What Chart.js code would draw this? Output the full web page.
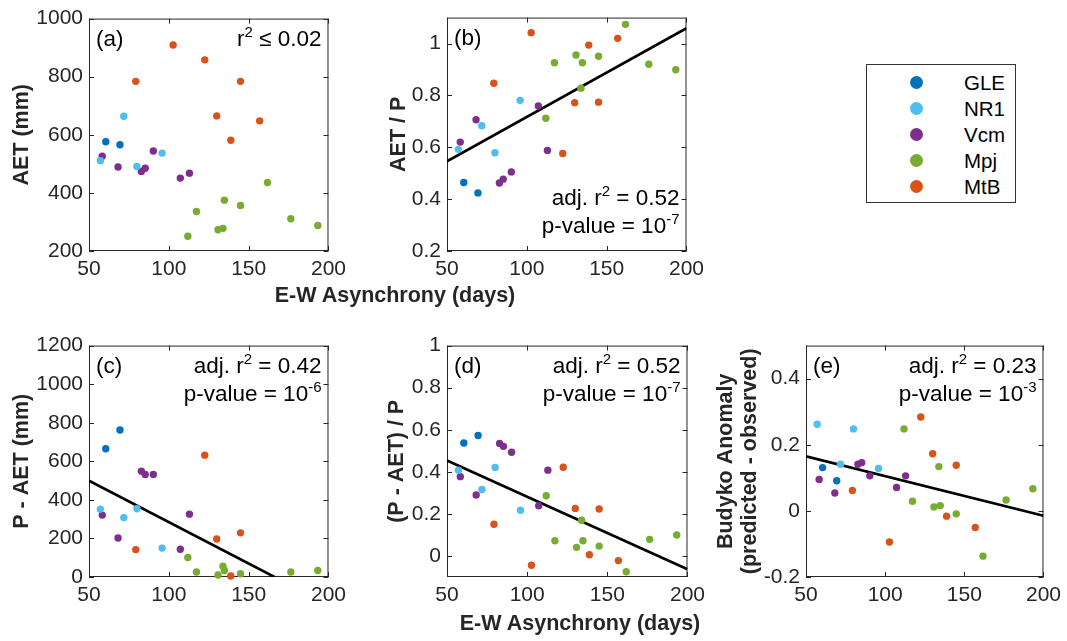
<!DOCTYPE html>
<html>
<head>
<meta charset="utf-8">
<script src="https://cdn.jsdelivr.net/npm/chart.js@4.4.1/dist/chart.umd.min.js"></script>
<style>
    body { margin: 0; width: 1067px; height: 641px; overflow: hidden; background: #fff; position: relative;
           font-family: "Liberation Sans", Arial, sans-serif; }
    canvas { position: absolute; }
    .xtitle { position: absolute; font-weight: bold; font-size: 21.5px; color: #262626; white-space: nowrap;
              transform: translate(-50%, -50%); }
    #legend { position: absolute; left: 866px; top: 64px; width: 148px; height: 137px; border: 1px solid #333; }
    .lg-row { position: absolute; left: 0; height: 24px; width: 148px; }
    .lg-dot { position: absolute; left: 43px; top: 5px; width: 13px; height: 13px; border-radius: 50%; }
    .lg-txt { position: absolute; left: 97px; top: 0; font-size: 20.5px; line-height: 24px; color: #000; }
</style>
</head>
<body>
<canvas id="panelA"></canvas>
<canvas id="panelB"></canvas>
<canvas id="panelC"></canvas>
<canvas id="panelD"></canvas>
<canvas id="panelE"></canvas>
<div class="xtitle" style="left:395px; top:295px;">E-W Asynchrony (days)</div>
<div class="xtitle" style="left:580px; top:623px;">E-W Asynchrony (days)</div>
<div id="legend"></div>

<script>
const siteNames = ["GLE", "NR1", "Vcm", "Mpj", "MtB"];
const siteColors = ["#0072BD", "#4DBEEE", "#7E2F8E", "#77AC30", "#D95319"];

// E-W asynchrony (days), shared by every panel
const asyncGLE = [60.5, 69.4];
const asyncNR1 = [57.1, 71.8, 80.0, 95.8];
const asyncVcm = [58.3, 68.2, 82.8, 85.2, 90.3, 107.2, 112.9];
const asyncMpj = [111.9, 117.3, 130.8, 133.9, 134.8, 144.9, 161.8, 176.4, 193.3];
const asyncMtB = [79.3, 102.7, 122.5, 130.0, 138.8, 144.9, 156.9];

// (a) AET (mm)
const aetGLE = [576, 566];
const aetNR1 = [511, 664, 491, 537];
const aetVcm = [526, 489, 474, 485, 544, 451, 468];
const aetMpj = [251, 336, 273, 278, 375, 357, 436, 311, 288];
const aetMtB = [784, 909, 858, 665, 581, 784, 648];

// (b) AET / P
const ratioGLE = [0.464, 0.424];
const ratioNR1 = [0.592, 0.683, 0.579, 0.781];
const ratioVcm = [0.620, 0.706, 0.462, 0.477, 0.505, 0.759, 0.588];
const ratioMpj = [0.712, 0.926, 0.956, 0.828, 0.926, 0.951, 1.074, 0.920, 0.899];
const ratioMtB = [0.847, 1.042, 0.576, 0.772, 0.994, 0.774, 1.020];

// (c) P - AET (mm); null = off the bottom of the axis
const surplusGLE = [665, 762];
const surplusNR1 = [352, 308, 354, 150];
const surplusVcm = [321, 202, 549, 532, 532, 144, 326];
const surplusMpj = [101, 26, 10, 56, 34, 17, null, 26, 34];
const surplusMtB = [142, null, 632, 197, 5, 229, null];

// (d) (P - AET) / P
const fracGLE = [0.537, 0.573];
const fracNR1 = [0.408, 0.316, 0.421, 0.217];
const fracVcm = [0.377, 0.290, 0.535, 0.521, 0.493, 0.239, 0.408];
const fracMpj = [0.286, 0.072, 0.041, 0.170, 0.072, 0.047, -0.075, 0.079, 0.100];
const fracMtB = [0.151, -0.044, 0.422, 0.226, 0.006, 0.223, -0.022];

// (e) Budyko anomaly (predicted - observed)
const budGLE = [0.131, 0.091];
const budNR1 = [0.262, 0.141, 0.248, 0.128];
const budVcm = [0.095, 0.054, 0.141, 0.146, 0.106, 0.071, 0.106];
const budMpj = [0.248, 0.029, 0.012, 0.134, 0.016, -0.009, -0.137, 0.033, 0.067];
const budMtB = [0.062, -0.094, 0.284, 0.173, -0.016, 0.138, -0.050];

// regression lines (end points)
const fitXB = [50, 200];
const fitYB = [0.546, 1.059];
const fitXC = [50, 166.2];
const fitYC = [499, 0];
const fitXD = [50, 200];
const fitYD = [0.454, -0.063];
const fitXE = [50, 200];
const fitYE = [0.165, -0.015];

// ticks
const xTicks = [50, 100, 150, 200];
const yTicksA = [200, 400, 600, 800, 1000];
const yTicksB = [0.2, 0.4, 0.6, 0.8, 1];
const yTicksC = [0, 200, 400, 600, 800, 1000, 1200];
const yTicksD = [0, 0.2, 0.4, 0.6, 0.8, 1];
const yTicksE = [-0.2, 0, 0.2, 0.4];

const asyncAll = [asyncGLE, asyncNR1, asyncVcm, asyncMpj, asyncMtB];

const TICK_FONT = { family: "'Liberation Sans', Arial, sans-serif", size: 21 };
const TITLE_FONT = { family: "'Liberation Sans', Arial, sans-serif", size: 21.5, weight: "bold", lineHeight: 1.15 };
const NOTE_SIZE = 22.5;
const AXIS_COLOR = "#262626";
const PAD_TOP = 16;
const X_AXIS_H = 44;

const boxPlugin = {
    id: "box",
    beforeDatasetsDraw(chart) {
        const { ctx, chartArea: a, scales } = chart;
        ctx.save();
        ctx.strokeStyle = AXIS_COLOR;
        ctx.lineWidth = 1;
        ctx.strokeRect(a.left + 0.5, a.top + 0.5, a.right - a.left - 1, a.bottom - a.top - 1);
        ctx.beginPath();
        scales.x.ticks.forEach((t) => {
            const px = Math.round(scales.x.getPixelForValue(t.value)) + 0.5;
            ctx.moveTo(px, a.bottom); ctx.lineTo(px, a.bottom - 5);
            ctx.moveTo(px, a.top); ctx.lineTo(px, a.top + 5);
        });
        scales.y.ticks.forEach((t) => {
            const py = Math.round(scales.y.getPixelForValue(t.value)) + 0.5;
            ctx.moveTo(a.left, py); ctx.lineTo(a.left + 5, py);
            ctx.moveTo(a.right, py); ctx.lineTo(a.right - 5, py);
        });
        ctx.stroke();
        ctx.restore();
    },
};

function splitSup(text) {
    // "adj. r^{2} = 0.52" -> [{t:"adj. r", sup:false}, {t:"2", sup:true}, ...]
    const parts = [];
    text.split(/\^\{([^}]*)\}/).forEach((t, i) => {
        if (t) parts.push({ t, sup: i % 2 === 1 });
    });
    return parts;
}

const notePlugin = {
    id: "note",
    afterDraw(chart, args, opts) {
        const { ctx, chartArea: a } = chart;
        const family = "'Liberation Sans', Arial, sans-serif";
        const normal = `${NOTE_SIZE}px ${family}`;
        const small = `${Math.round(NOTE_SIZE * 0.68)}px ${family}`;
        ctx.save();
        ctx.fillStyle = "#000";
        ctx.textBaseline = "alphabetic";
        ctx.textAlign = "left";
        ctx.font = normal;
        ctx.fillText(opts.tag, a.left + 7, a.top + 27);

        const lines = opts.lines || [];
        lines.forEach((line, i) => {
            const base = opts.atBottom
                ? a.bottom - 18 - (lines.length - 1 - i) * 28
                : a.top + 27 + i * 28;
            const parts = splitSup(line);
            let w = 0;
            parts.forEach((p) => {
                ctx.font = p.sup ? small : normal;
                p.w = ctx.measureText(p.t).width;
                w += p.w;
            });
            let x = a.right - 7 - w;
            parts.forEach((p) => {
                ctx.font = p.sup ? small : normal;
                ctx.fillText(p.t, x, p.sup ? base - 9 : base);
                x += p.w;
            });
        });
        ctx.restore();
    },
};

function pointSets(ySeries) {
    return ySeries.map((ys, s) => ({
        label: siteNames[s],
        data: asyncAll[s]
            .map((x, i) => ({ x, y: ys[i] }))
            .filter((p) => p.y !== null),
        backgroundColor: siteColors[s],
        pointBackgroundColor: siteColors[s],
        pointBorderWidth: 0,
        pointRadius: 3.7,
        clip: false,
    }));
}

function fitSet(xs, ys) {
    return {
        label: "fit",
        data: xs.map((x, i) => ({ x, y: ys[i] })),
        showLine: true,
        borderColor: "#000",
        borderWidth: 2.6,
        pointRadius: 0,
        fill: false,
    };
}

function makePanel(cfg) {
    const canvas = document.getElementById(cfg.id);
    const width = cfg.box.right - cfg.canvasLeft + cfg.padRight;
    const height = PAD_TOP + (cfg.box.bottom - cfg.box.top) + X_AXIS_H;
    canvas.width = width;
    canvas.height = height;
    canvas.style.left = cfg.canvasLeft + "px";
    canvas.style.top = (cfg.box.top - PAD_TOP) + "px";
    canvas.style.width = width + "px";
    canvas.style.height = height + "px";
    const yAxisW = cfg.box.left - cfg.canvasLeft;

    const datasets = pointSets(cfg.series);
    if (cfg.fit) datasets.push(fitSet(cfg.fit[0], cfg.fit[1]));

    new Chart(canvas, {
        type: "scatter",
        data: { datasets },
        options: {
            responsive: false,
            animation: false,
            devicePixelRatio: 1,
            layout: { padding: { top: PAD_TOP, right: cfg.padRight, left: 0, bottom: 0 } },
            plugins: {
                legend: { display: false },
                tooltip: { enabled: false },
                note: cfg.note,
            },
            scales: {
                x: {
                    type: "linear",
                    min: 50,
                    max: 200,
                    grid: { display: false, drawTicks: false },
                    border: { display: false },
                    afterBuildTicks: (s) => { s.ticks = xTicks.map((v) => ({ value: v })); },
                    afterFit: (s) => { s.height = X_AXIS_H; },
                    ticks: { font: TICK_FONT, color: AXIS_COLOR, padding: 6, maxRotation: 0,
                             callback: (v) => String(v) },
                },
                y: {
                    type: "linear",
                    min: cfg.yMin,
                    max: cfg.yMax,
                    grid: { display: false, drawTicks: false },
                    border: { display: false },
                    afterBuildTicks: (s) => { s.ticks = cfg.yTicks.map((v) => ({ value: v })); },
                    afterFit: (s) => { s.width = yAxisW; },
                    ticks: { font: TICK_FONT, color: AXIS_COLOR, padding: 6,
                             callback: (v) => String(v) },
                    title: {
                        display: true,
                        text: cfg.yTitle,
                        font: TITLE_FONT,
                        color: AXIS_COLOR,
                        padding: { top: cfg.titlePad, bottom: 0 },
                    },
                },
            },
        },
        plugins: [boxPlugin, notePlugin],
    });
}

function buildLegend() {
    const box = document.getElementById("legend");
    siteNames.forEach((name, i) => {
        const row = document.createElement("div");
        row.className = "lg-row";
        row.style.top = (6 + i * 26) + "px";
        row.innerHTML = `<span class="lg-dot" style="background:${siteColors[i]}"></span>` +
            `<span class="lg-txt">${name}</span>`;
        box.appendChild(row);
    });
}

document.addEventListener("DOMContentLoaded", () => {
    makePanel({
        id: "panelA", canvasLeft: 0, padRight: 22, titlePad: 9.6,
        box: { left: 89, top: 16, right: 330, bottom: 251 },
        yMin: 200, yMax: 1000, yTicks: yTicksA, yTitle: "AET (mm)",
        series: [aetGLE, aetNR1, aetVcm, aetMpj, aetMtB],
        note: { tag: "(a)", lines: ["r^{2} \u2264 0.02"] },
    });
    makePanel({
        id: "panelB", canvasLeft: 380, padRight: 22, titlePad: 6.6,
        box: { left: 447, top: 15, right: 688, bottom: 251 },
        yMin: 0.2, yMax: 1.1, yTicks: yTicksB, yTitle: "AET / P",
        series: [ratioGLE, ratioNR1, ratioVcm, ratioMpj, ratioMtB],
        fit: [fitXB, fitYB],
        note: { tag: "(b)", lines: ["adj. r^{2} = 0.52", "p-value = 10^{-7}"], atBottom: true },
    });
    makePanel({
        id: "panelC", canvasLeft: 0, padRight: 22, titlePad: 9.6,
        box: { left: 89, top: 343, right: 330, bottom: 577 },
        yMin: 0, yMax: 1200, yTicks: yTicksC, yTitle: "P - AET (mm)",
        series: [surplusGLE, surplusNR1, surplusVcm, surplusMpj, surplusMtB],
        fit: [fitXC, fitYC],
        note: { tag: "(c)", lines: ["adj. r^{2} = 0.42", "p-value = 10^{-6}"] },
    });
    makePanel({
        id: "panelD", canvasLeft: 380, padRight: 22, titlePad: 4.6,
        box: { left: 447, top: 343, right: 689, bottom: 577 },
        yMin: -0.1, yMax: 1, yTicks: yTicksD, yTitle: "(P - AET) / P",
        series: [fracGLE, fracNR1, fracVcm, fracMpj, fracMtB],
        fit: [fitXD, fitYD],
        note: { tag: "(d)", lines: ["adj. r^{2} = 0.52", "p-value = 10^{-7}"] },
    });
    makePanel({
        id: "panelE", canvasLeft: 700, padRight: 20, titlePad: 13.4,
        box: { left: 806, top: 343, right: 1047, bottom: 577 },
        yMin: -0.2, yMax: 0.5, yTicks: yTicksE, yTitle: ["Budyko Anomaly", "(predicted - observed)"],
        series: [budGLE, budNR1, budVcm, budMpj, budMtB],
        fit: [fitXE, fitYE],
        note: { tag: "(e)", lines: ["adj. r^{2} = 0.23", "p-value = 10^{-3}"] },
    });
    buildLegend();
});
</script>
</body>
</html>
